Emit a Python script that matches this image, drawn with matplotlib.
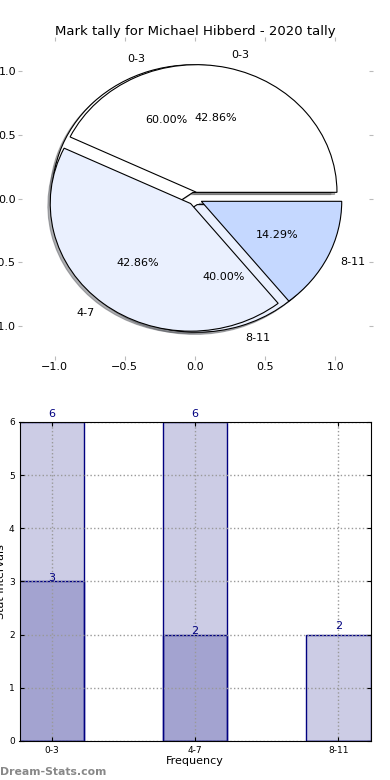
import matplotlib
matplotlib.use('Agg')
import matplotlib.pyplot as plt
import numpy as np

categories = ['0-3', '4-7', '8-11']
total_counts = [6, 6, 2]
year_counts = [3, 2, 0]

# inner pie only has the non-zero bins, labels as they appear on the chart
pie1_values = [3, 2]
pie1_labels = ['0-3', '8-11']
pie2_values = total_counts
pie2_labels = categories

fig = plt.figure(figsize=(3.9, 7.8), dpi=100)
fig.subplots_adjust(left=0.05, right=0.95, top=0.95, bottom=0.05, hspace=0.2)

# ---- pie ----
ax1 = plt.subplot(2, 1, 1)
pie_colors = ['#FFFFFF', '#EAF0FE', '#C5D8FF']
shadow = {'ox': -0.012, 'oy': -0.012, 'shade': 0.6}
ax1.pie(pie1_values, labels=pie1_labels, autopct='%.2f%%', explode=[0.05, 0.05],
        colors=pie_colors[:2], shadow=shadow, frame=True,
        wedgeprops={'edgecolor': 'black', 'linewidth': 0.8},
        textprops={'fontsize': 8})
ax1.pie(pie2_values, labels=pie2_labels, autopct='%.2f%%', explode=[0.05, 0.05, 0.05],
        colors=pie_colors, shadow=shadow, frame=True,
        wedgeprops={'edgecolor': 'black', 'linewidth': 0.8},
        textprops={'fontsize': 8})
ax1.set_aspect('auto')
ax1.set_xlim(-1.25, 1.25)
ax1.set_ylim(-1.25, 1.25)
ax1.set_xticks([-1.0, -0.5, 0.0, 0.5, 1.0])
ax1.set_yticks([-1.0, -0.5, 0.0, 0.5, 1.0])
for s in ax1.spines.values():
    s.set_visible(False)
ax1.tick_params(direction='inout', length=3, color='#BBBBBB', labelsize=8,
                top=True, right=True, pad=1)
ax1.set_title('Mark tally for Michael Hibberd - 2020 tally', fontsize=9.5, pad=3)

# ---- bars ----
ax2 = plt.subplot(2, 1, 2)
x = np.arange(len(categories))
ax2.bar(x, total_counts, width=0.45, color='navy', alpha=0.2, edgecolor='none')
ax2.bar(x, total_counts, width=0.45, color='none', edgecolor='navy', linewidth=1)
ax2.bar(x, year_counts, width=0.45, color='navy', alpha=0.2, edgecolor='none')
ax2.bar(x, year_counts, width=0.45, color='none', edgecolor='navy', linewidth=1)
for xi, v in zip(x, total_counts):
    ax2.text(xi, v + 0.06, str(v), ha='center', va='bottom', fontsize=8, color='navy')
for xi, v in zip(x, year_counts):
    if v > 0:
        ax2.text(xi, v - 0.02, str(v), ha='center', va='bottom', fontsize=8, color='navy')
ax2.set_xlim(-0.225, 2.225)
ax2.set_ylim(0, 6)
ax2.set_xticks(x)
ax2.set_xticklabels(categories)
ax2.grid(True, linestyle=':', color='#999999', linewidth=1)
ax2.set_axisbelow(False)
for s in ax2.spines.values():
    s.set_zorder(4)
ax2.tick_params(direction='in', labelsize=6.5, top=True, right=True, length=3)
ax2.set_xlabel('Frequency', fontsize=8, labelpad=1)
ax2.set_ylabel('Stat Intervals', fontsize=8, labelpad=2)

fig.text(0.0, 0.006, 'Dream-Stats.com', fontsize=7.8, color='#888888', fontweight='bold')

plt.savefig('out.png')
